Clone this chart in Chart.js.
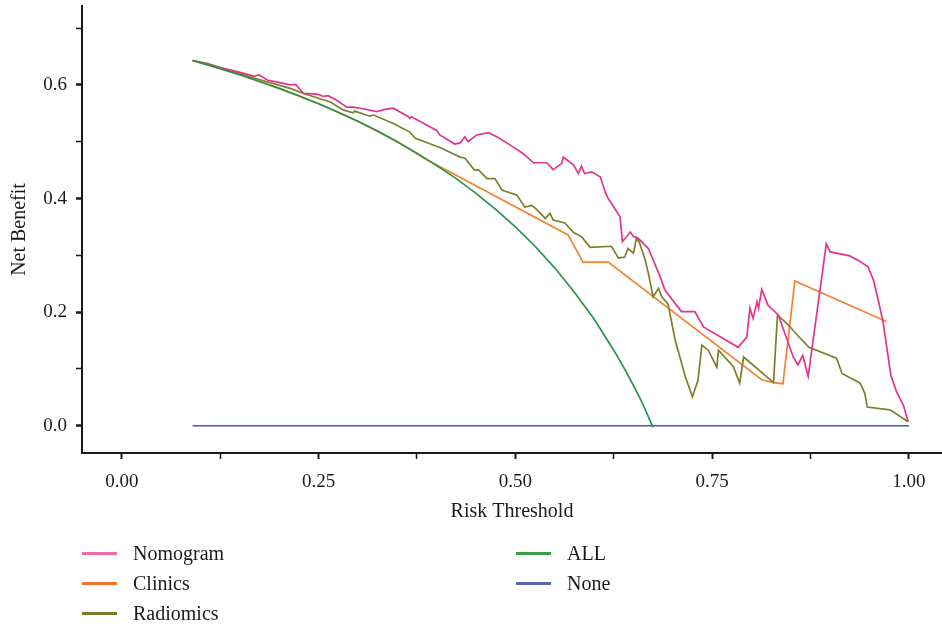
<!DOCTYPE html>
<html>
<head>
<meta charset="utf-8">
<script src="https://cdn.jsdelivr.net/npm/chart.js@4.4.1/dist/chart.umd.min.js"></script>
<style>
    html, body { margin: 0; padding: 0; background: #fff; }
    #wrap { position: relative; width: 942px; height: 627px; }
    #box { position: absolute; left: 0; top: 0; width: 942px; height: 530px; }
    #legend { position: absolute; left: 0; top: 0; width: 942px; height: 627px; pointer-events: none;
              font-family: "Liberation Serif", "DejaVu Serif", serif; font-size: 20px; color: #1a1a1a; }
    .lg-item { position: absolute; height: 24px; line-height: 24px; white-space: nowrap; }
    .lg-line { position: absolute; left: 0; top: 11px; width: 35px; height: 3px; }
    .lg-text { position: absolute; left: 51px; top: 0; }
</style>
</head>
<body>
<div id="wrap">
    <div id="box"><canvas id="dca"></canvas></div>
    <div id="legend"></div>
</div>
<script>
// decision curve data (threshold -> net benefit)
var nomogramX = [0.090, 0.120, 0.148, 0.169, 0.174, 0.186, 0.201, 0.214, 0.221, 0.231, 0.248, 0.256, 0.262, 0.273,
                 0.286, 0.294, 0.303, 0.324, 0.334, 0.345, 0.364, 0.366, 0.368, 0.400, 0.404, 0.423, 0.430, 0.436,
                 0.440, 0.451, 0.466, 0.480, 0.497, 0.510, 0.523, 0.540, 0.548, 0.559, 0.561, 0.574, 0.580, 0.584,
                 0.588, 0.597, 0.608, 0.614, 0.618, 0.633, 0.636, 0.646, 0.650, 0.656, 0.669, 0.684, 0.690, 0.711,
                 0.728, 0.739, 0.783, 0.794, 0.798, 0.802, 0.807, 0.809, 0.813, 0.821, 0.834, 0.853, 0.859, 0.865,
                 0.872, 0.895, 0.900, 0.925, 0.938, 0.948, 0.955, 0.961, 0.967, 0.977, 0.984, 0.993, 0.999];
var nomogramY = [0.643, 0.632, 0.623, 0.615, 0.618, 0.608, 0.604, 0.600, 0.601, 0.585, 0.584, 0.580, 0.581, 0.573,
                 0.561, 0.561, 0.559, 0.553, 0.557, 0.559, 0.544, 0.541, 0.544, 0.520, 0.512, 0.496, 0.498, 0.509,
                 0.500, 0.512, 0.516, 0.506, 0.491, 0.479, 0.463, 0.463, 0.451, 0.462, 0.473, 0.459, 0.444, 0.457,
                 0.444, 0.447, 0.438, 0.412, 0.400, 0.368, 0.324, 0.341, 0.333, 0.330, 0.312, 0.262, 0.239, 0.201,
                 0.201, 0.174, 0.138, 0.156, 0.207, 0.189, 0.218, 0.207, 0.240, 0.212, 0.195, 0.121, 0.107, 0.124,
                 0.087, 0.320, 0.306, 0.299, 0.289, 0.280, 0.256, 0.221, 0.184, 0.089, 0.061, 0.036, 0.007];

var clinicsX = [0.090, 0.120, 0.150, 0.200, 0.250, 0.300, 0.350, 0.383, 0.567, 0.586, 0.618, 0.813, 0.828, 0.840, 0.855, 0.972];
var clinicsY = [0.643, 0.631, 0.618, 0.594, 0.567, 0.536, 0.500, 0.472, 0.336, 0.288, 0.288, 0.081, 0.076, 0.074, 0.255, 0.183];

var radiomicsX = [0.090, 0.108, 0.150, 0.171, 0.214, 0.231, 0.258, 0.265, 0.281, 0.294, 0.296, 0.315, 0.320, 0.345,
                  0.366, 0.373, 0.404, 0.430, 0.436, 0.448, 0.453, 0.464, 0.474, 0.483, 0.502, 0.512, 0.521, 0.527,
                  0.538, 0.544, 0.548, 0.563, 0.574, 0.584, 0.595, 0.622, 0.631, 0.639, 0.643, 0.650, 0.654, 0.658,
                  0.665, 0.669, 0.675, 0.682, 0.686, 0.694, 0.703, 0.709, 0.716, 0.725, 0.732, 0.737, 0.745, 0.756,
                  0.758, 0.777, 0.785, 0.790, 0.828, 0.833, 0.845, 0.862, 0.873, 0.908, 0.915, 0.938, 0.944, 0.947,
                  0.976, 0.999];
var radiomicsY = [0.643, 0.638, 0.620, 0.611, 0.594, 0.585, 0.573, 0.570, 0.556, 0.551, 0.554, 0.545, 0.547, 0.532,
                  0.517, 0.506, 0.490, 0.473, 0.471, 0.450, 0.451, 0.435, 0.435, 0.415, 0.406, 0.385, 0.388, 0.381,
                  0.365, 0.374, 0.362, 0.357, 0.340, 0.333, 0.314, 0.316, 0.295, 0.297, 0.312, 0.304, 0.331, 0.321,
                  0.292, 0.268, 0.227, 0.242, 0.227, 0.214, 0.151, 0.121, 0.086, 0.051, 0.080, 0.142, 0.133, 0.103,
                  0.133, 0.104, 0.075, 0.121, 0.076, 0.195, 0.180, 0.154, 0.138, 0.119, 0.092, 0.075, 0.057, 0.033,
                  0.028, 0.007];

var allX = [0.090, 0.120, 0.150, 0.175, 0.200, 0.225, 0.250, 0.275, 0.300, 0.325, 0.350, 0.375, 0.400, 0.425,
            0.450, 0.475, 0.500, 0.525, 0.550, 0.575, 0.600, 0.625, 0.640, 0.650, 0.660, 0.675];
var allY = [0.643, 0.631, 0.618, 0.606, 0.594, 0.581, 0.567, 0.552, 0.536, 0.519, 0.500, 0.480, 0.458, 0.435,
            0.409, 0.381, 0.350, 0.316, 0.278, 0.235, 0.188, 0.133, 0.097, 0.071, 0.044, -0.003];

var noneX = [0.090, 1.000];
var noneY = [0.000, 0.000];

var xTicks = [0, 0.125, 0.25, 0.375, 0.5, 0.625, 0.75, 0.875, 1.0];
var yTicks = [0, 0.1, 0.2, 0.3, 0.4, 0.5, 0.6, 0.7];

var FONT = "'Liberation Serif', 'DejaVu Serif', serif";
var INK = "#1a1a1a";

function pts(xs, ys) {
    return xs.map(function (x, i) { return { x: x, y: ys[i] }; });
}

function serie(label, xs, ys, color, order) {
    return {
        label: label,
        data: pts(xs, ys),
        borderColor: color,
        backgroundColor: color,
        borderWidth: 1.7,
        pointRadius: 0,
        showLine: true,
        tension: 0,
        order: order
    };
}

var series = [
    serie("Nomogram",  nomogramX,  nomogramY,  "#e2368c", 2),
    serie("Clinics",   clinicsX,   clinicsY,   "#f28232", 4),
    serie("Radiomics", radiomicsX, radiomicsY, "#7e7e2c", 3),
    serie("ALL",       allX,       allY,       "#289448", 1),
    serie("None",      noneX,      noneY,      "#4657b9", 5)
];

var legendColors = ["#ee6aa8", "#f0742c", "#7a7a32", "#3c9a45", "#5e62b2"];

function isMajor(v, step) {
    return Math.abs(Math.round(v / step) * step - v) < 1e-6;
}

new Chart(document.getElementById("dca").getContext("2d"), {
    type: "scatter",
    data: { datasets: series },
    options: {
        responsive: true,
        maintainAspectRatio: false,
        animation: false,
        layout: { padding: { top: 6, right: 0, bottom: 0, left: 0 } },
        plugins: { legend: { display: false }, tooltip: { enabled: false } },
        scales: {
            x: {
                type: "linear",
                min: -0.0505,
                max: 1.042,
                afterFit: function (s) { s.height = 77; s.paddingLeft = 0; s.paddingRight = 0; },
                afterBuildTicks: function (s) {
                    s.ticks = xTicks.map(function (v) { return { value: v }; });
                },
                border: { display: true, color: INK, width: 2 },
                grid: {
                    drawOnChartArea: false,
                    drawTicks: true,
                    tickLength: 6,
                    tickColor: INK,
                    tickWidth: function (ctx) { return ctx.tick && isMajor(ctx.tick.value, 0.25) ? 2 : 1.5; }
                },
                ticks: {
                    padding: 12,
                    color: INK,
                    font: { family: FONT, size: 19 },
                    maxRotation: 0,
                    autoSkip: false,
                    callback: function (v) { return isMajor(v, 0.25) ? v.toFixed(2) : ""; }
                },
                title: {
                    display: true,
                    text: "Risk Threshold",
                    color: INK,
                    font: { family: FONT, size: 20 },
                    padding: { top: 0, bottom: 6 }
                }
            },
            y: {
                type: "linear",
                min: -0.048,
                max: 0.739,
                afterFit: function (s) { s.width = 82; s.paddingTop = 0; s.paddingBottom = 0; },
                afterBuildTicks: function (s) {
                    s.ticks = yTicks.map(function (v) { return { value: v }; });
                },
                border: { display: true, color: INK, width: 2 },
                grid: {
                    drawOnChartArea: false,
                    drawTicks: true,
                    tickLength: 6,
                    tickColor: INK,
                    tickWidth: function (ctx) { return ctx.tick && isMajor(ctx.tick.value, 0.2) ? 2.5 : 1.5; }
                },
                ticks: {
                    padding: 9,
                    color: INK,
                    font: { family: FONT, size: 19 },
                    autoSkip: false,
                    callback: function (v) { return isMajor(v, 0.2) ? v.toFixed(1) : ""; }
                },
                title: {
                    display: true,
                    text: "Net Benefit",
                    color: INK,
                    font: { family: FONT, size: 20 },
                    padding: { top: 8, bottom: 0 }
                }
            }
        }
    }
});

// legend: two columns under the plot
(function () {
    var slots = [[82, 541], [82, 571], [82, 601], [516, 541], [516, 571]];
    var box = document.getElementById("legend");
    series.forEach(function (d, k) {
        var item = document.createElement("div");
        item.className = "lg-item";
        item.style.left = slots[k][0] + "px";
        item.style.top = slots[k][1] + "px";
        var line = document.createElement("span");
        line.className = "lg-line";
        line.style.background = legendColors[k];
        var txt = document.createElement("span");
        txt.className = "lg-text";
        txt.textContent = d.label;
        item.appendChild(line);
        item.appendChild(txt);
        box.appendChild(item);
    });
})();
</script>
</body>
</html>
